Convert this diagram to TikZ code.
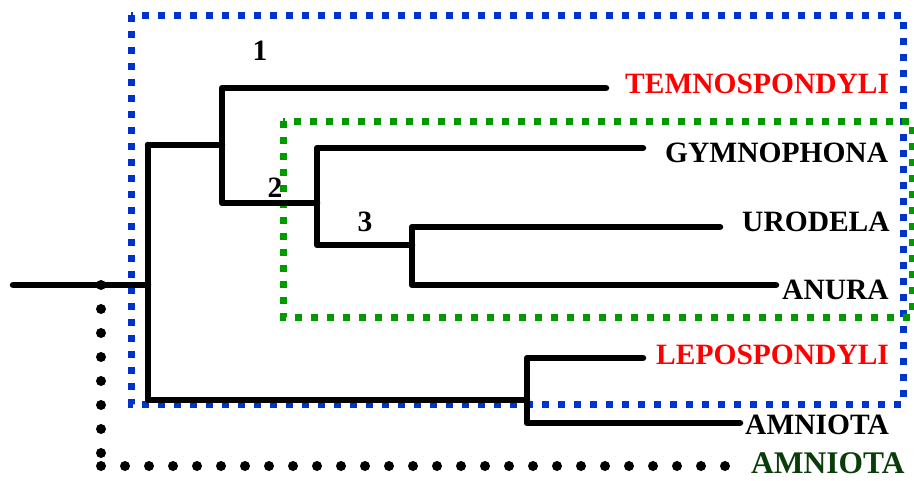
\documentclass[tikz,border=0pt]{standalone}
\usepackage{fontspec}
\setmainfont{Liberation Serif}
\definecolor{ink}{HTML}{000000}
\definecolor{fossil}{HTML}{FF0000}
\definecolor{amniogruen}{HTML}{0B3D0B}
\definecolor{boxblau}{HTML}{0033CC}
\definecolor{boxgruen}{HTML}{009900}
\newcommand{\taxon}{\fontsize{29.5}{32}\selectfont\bfseries}
\newcommand{\gruppe}{\fontsize{31.5}{34}\selectfont\bfseries}
\tikzset{ast/.style={ink,line width=6.5pt,line cap=round,line join=round},
  kastenblau/.style={boxblau,line width=7pt,dash pattern=on 7pt off 9pt},
  kastengruen/.style={boxgruen,line width=7pt,dash pattern=on 7pt off 9pt},
  punktlinie/.style={ink,line width=10pt,line cap=round,dash pattern=on 0pt off 24pt},
  blatt/.style={anchor=west,inner sep=0,font=\taxon}}

\begin{document}
\begin{tikzpicture}[x=1pt,y=-1pt]
\useasboundingbox (0,0) rectangle (914,480);
% clade boxes
\draw[kastenblau] (131,15) rectangle (903,404);
\draw[kastengruen] (283,121) rectangle (912,317);
% inner nodes
\coordinate (wurzel) at (13,285);
\coordinate (k0) at (148,285);
\coordinate (k1) at (222,145);
\coordinate (k2) at (317,203);
\coordinate (k3) at (412,245);
\coordinate (k4) at (527,400);
% tips
\coordinate (temno) at (606,88);
\coordinate (gymno) at (643,148);
\coordinate (urod) at (720,227);
\coordinate (anur) at (776,285);
\coordinate (lepo) at (643,358);
\coordinate (amni) at (740,423);
% tree
\draw[ast] (wurzel) -- (k0);
\draw[ast] (k1 -| k0) |- (k4);
\draw[ast] (k1 -| k0) -- (k1);
\draw[ast] (temno) -| (k1) |- (k2);
\draw[ast] (gymno) -| (k2) |- (k3);
\draw[ast] (urod) -| (k3) |- (anur);
\draw[ast] (lepo) -| (k4) |- (amni);
% labels
\node[blatt,text=fossil] (ltemno) at (625,84) {TEMNOSPONDYLI};
\node[blatt] (lgymno) at (665,153) {GYMNOPHONA};
\node[blatt] (lurod) at (742,222) {URODELA};
\node[blatt] (lanur) at (782,290) {ANURA};
\node[blatt,text=fossil] (llepo) at (656,355) {LEPOSPONDYLI};
\node[blatt] (lamni) at (745,425) {AMNIOTA};
\node[inner sep=0,font=\taxon] (n1) at (260,51) {1};
\node[inner sep=0,font=\taxon] (n2) at (275,188) {2};
\node[inner sep=0,font=\taxon] (n3) at (365,222) {3};
% amniote bracket
\coordinate (pkt) at (101,285);
\coordinate (pktecke) at (101,466);
\coordinate (pktende) at (725,466);
\draw[punktlinie] (pkt) -- (pktecke);
\draw[punktlinie] (pktende) -- (pktecke);
\node[blatt,font=\gruppe,text=amniogruen] (lgruppe) at (751,463) {AMNIOTA};
\end{tikzpicture}
\end{document}
